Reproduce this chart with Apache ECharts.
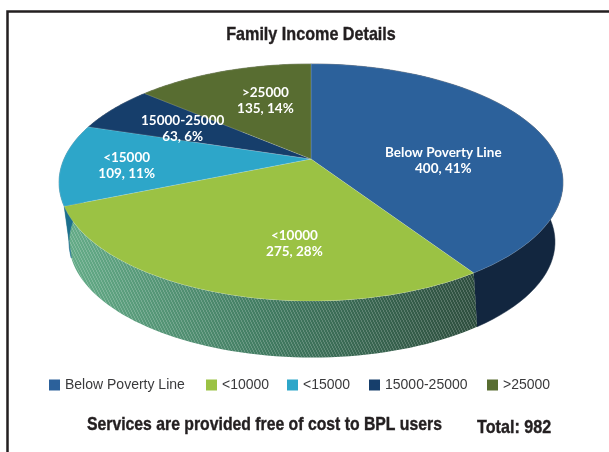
<!DOCTYPE html>
<html><head><meta charset="utf-8">
<style>html,body{margin:0;padding:0;background:#fff}#c{width:609px;height:452px}</style>
<script src="https://cdn.jsdelivr.net/npm/echarts@6/dist/echarts.min.js"></script>
</head><body><div id="c"></div>
<script>
const categories = ['Below Poverty Line', '<10000', '<15000', '15000-25000', '>25000'];
const counts = [400, 275, 109, 63, 135];
const percents = [41, 28, 11, 6, 14];
const total = 982;

const topColors = ['#2c619b', '#9bc244', '#2da6c9', '#163e6b', '#586d31'];
const wallColors = ['#12263f', null, '#1c6f8e', '#0d2440', '#34421d'];
const labelNudge = [[-2, 20], [37, 4], [-35, 4], [-10, 0], [7, -6]];
const legendLeft = [49, 206, 287, 369, 487];

const apex = [311, 159], R = 247, A = 113.9, K = 0.198;
const topEll = { cx: 310.5, cy: 182.5, rx: 252, ry: 118.5 };
const botEll = { cx: 312, cy: 242, rx: 243, ry: 115.5 };

function rim(t) {
  const X = Math.sin(t), Z = -Math.cos(t), d = 1 - K * Z;
  return [apex[0] + R * X / d, apex[1] + A * Z / d];
}
function wallPhase(deg) {
  if (deg <= 0 || deg >= 180) return deg;
  if (deg <= 50) return deg * 47.5 / 50;
  if (deg <= 167.6) return 47.5 + (deg - 50) * (171.5 - 47.5) / (167.6 - 50);
  return 171.5 + (deg - 167.6) * 8.5 / 12.4;
}
function base(t) {
  const p = rim(t);
  let phi = Math.atan2((p[1] - topEll.cy) / topEll.ry, (p[0] - topEll.cx) / topEll.rx) * 180 / Math.PI;
  if (phi < -90) phi += 360;
  const b = wallPhase(phi) * Math.PI / 180;
  return [botEll.cx + botEll.rx * Math.cos(b), botEll.cy + botEll.ry * Math.sin(b)];
}
function arc(f, a, b, n) {
  const out = [];
  for (let i = 0; i <= n; i++) out.push(f(a + (b - a) * i / n));
  return out;
}
function hatch() {
  const c = document.createElement('canvas');
  c.width = 6; c.height = 6;
  const g = c.getContext('2d');
  g.fillStyle = 'rgba(255,255,255,0.2)';
  [[0,0],[1,2],[2,4],[3,0],[4,2],[5,4]].forEach(p => { g.fillRect(p[0], p[1], 1, 1); g.fillRect(p[0], p[1]+1, 1, 1); });
  return c;
}
const hatchImg = hatch();

function sliceRender(idx) {
  return function () {
    const before = counts.slice(0, idx).reduce((s, v) => s + v, 0);
    const t0 = before / total * 2 * Math.PI, t1 = (before + counts[idx]) / total * 2 * Math.PI;
    const n = 60;
    const topArc = arc(rim, t0, t1, n);
    const botArc = arc(base, t0, t1, n);
    const wall = topArc.concat(botArc.slice().reverse());
    const children = [];
    if (wallColors[idx]) {
      children.push({ type: 'polygon', z2: 1, shape: { points: wall }, style: { fill: wallColors[idx], stroke: wallColors[idx], lineWidth: 0.5 } });
    } else {
      children.push({ type: 'polygon', z2: 1, shape: { points: wall }, style: {
        fill: new echarts.graphic.LinearGradient(0, 0, 1, 0, [
          { offset: 0, color: '#66ad89' }, { offset: 0.5, color: '#417a61' }, { offset: 1, color: '#2f4f3f' }
        ]) } });
      children.push({ type: 'polygon', z2: 1, shape: { points: wall }, style: { fill: { image: hatchImg, repeat: 'repeat' } } });
    }
    children.push({ type: 'polygon', z2: 2, shape: { points: [apex].concat(topArc) },
      style: { fill: topColors[idx], stroke: 'rgba(255,255,255,0.25)', lineWidth: 0.6 } });
    const mid = rim((t0 + t1) / 2);
    const lx = apex[0] + 0.6 * (mid[0] - apex[0]) + labelNudge[idx][0];
    const ly = apex[1] + 0.6 * (mid[1] - apex[1]) + labelNudge[idx][1];
    children.push({ type: 'text', z2: 3, x: lx, y: ly, style: {
      text: categories[idx] + '\n' + counts[idx] + ', ' + percents[idx] + '%',
      fill: '#fff', font: 'bold 13.5px Lato', lineHeight: 16, align: 'center', verticalAlign: 'middle' } });
    return { type: 'group', children };
  };
}

const chart = echarts.init(document.getElementById('c'), null, { renderer: 'canvas' });
const headFont = 'bold 19px "Liberation Sans"';
function heading(text, x, y, align, sx) {
  return { type: 'text', z: 10, x: x, y: y, scaleX: sx, style: {
    text: text, font: headFont, fill: '#231f20', stroke: '#231f20', lineWidth: 0.4, align: align, verticalAlign: 'middle' } };
}
chart.setOption({
  animation: false,
  backgroundColor: '#fff',
  legend: categories.map((c, i) => ({
    data: [c], left: legendLeft[i], top: 378, icon: 'rect', itemWidth: 11, itemHeight: 11, itemGap: 0,
    padding: 0, selectedMode: false,
    textStyle: { fontFamily: '"Liberation Sans"', fontSize: 14, color: '#3a3a3c' }
  })),
  graphic: [
    { type: 'polyline', z: 10, shape: { points: [[7.5, 460], [7.5, 11.5], [620, 11.5]] },
      style: { stroke: '#231f20', lineWidth: 2.5, fill: 'none' } },
    heading('Family Income Details', 311, 35, 'center', 0.85),
    heading('Services are provided free of cost to BPL users', 87, 425, 'left', 0.83),
    heading('Total: 982', 477, 428, 'left', 0.85)
  ],
  series: categories.map((c, i) => ({
    type: 'custom', name: c, coordinateSystem: 'none', itemStyle: { color: topColors[i] },
    data: [{ name: c, value: counts[i] }], renderItem: sliceRender(i), silent: true, clip: false
  }))
});
</script></body></html>
